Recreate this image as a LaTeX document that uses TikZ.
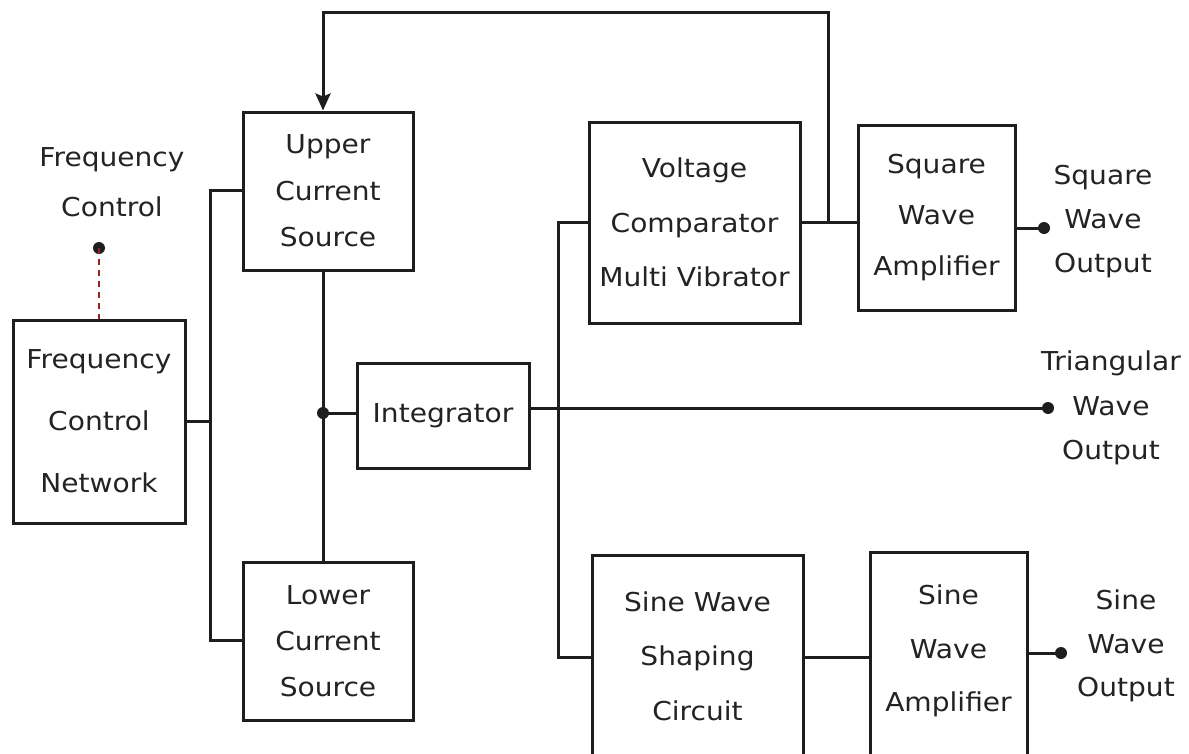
\documentclass[tikz,border=0pt]{standalone}
\usepackage{fontspec}
\setmainfont{DejaVu Sans}[FakeStretch=1.08]
\usetikzlibrary{arrows.meta}
\definecolor{ink}{RGB}{30,30,30}
\definecolor{txt}{RGB}{35,35,35}
\definecolor{dred}{RGB}{150,35,35}
\newcommand{\fs}[1]{\fontsize{26}{#1}\selectfont}
\begin{document}
\begin{tikzpicture}[x=1pt,y=-1pt,line width=3pt,draw=ink,
  box/.style={draw=ink,line width=3pt,align=center,inner sep=0pt,text=txt},
  lbl/.style={align=center,inner sep=0pt,text=txt},
  dot/.style={circle,fill=ink,inner sep=0pt,minimum size=12pt},
  conn/.style={draw=ink,line width=3pt}]
\useasboundingbox (0,0) rectangle (1189,753);
\clip (0,0) rectangle (1189,753);
\fill[white] (0,0) rectangle (1189,753);

% blocks
\node[box,minimum width=172pt,minimum height=203pt,font=\fs{62pt}] (fcn) at (99,421.5) {Frequency\\Control\\Network};
\node[box,minimum width=170pt,minimum height=158pt,font=\fs{46.5pt}] (upper) at (328,191) {Upper\\Current\\Source};
\node[box,minimum width=170pt,minimum height=158pt,font=\fs{46pt}] (lower) at (328,641) {Lower\\Current\\Source};
\node[box,minimum width=172pt,minimum height=105pt,font=\fs{30pt}] (integ) at (443,415.5) {Integrator};
\node[box,minimum width=211pt,minimum height=201pt,font=\fs{54.5pt}] (vcm) at (694.5,222.5) {Voltage\\Comparator\\Multi Vibrator};
\node[box,minimum width=157pt,minimum height=185pt,font=\fs{51pt}] (sqa) at (936.5,217.5) {Square\\Wave\\Amplifier};
\node[box,minimum width=211pt,minimum height=230pt] (sws) at (697.5,670) {};
\node[lbl,font=\fs{54.5pt}] (swst) at (697.5,656) {Sine Wave\\Shaping\\Circuit};
\node[box,minimum width=157pt,minimum height=230pt] (swa) at (948.5,667) {};
\node[lbl,font=\fs{53.5pt}] (swat) at (948.5,651) {Sine\\Wave\\Amplifier};

% outside labels
\node[lbl,font=\fs{50pt}] (fcl) at (112,182) {Frequency\\Control};
\node[lbl,font=\fs{44pt}] (sqo) at (1103,222) {Square\\Wave\\Output};
\node[lbl,font=\fs{44.5pt}] (tro) at (1111,408) {Triangular\\Wave\\Output};
\node[lbl,font=\fs{43.5pt}] (swo) at (1126,646) {Sine\\Wave\\Output};

% terminal dots
\node[dot] (fcdot) at (99,248) {};
\node[dot] (sqdot) at (1044,228) {};
\node[dot] (trdot) at (1048,408) {};
\node[dot] (swdot) at (1061,653) {};
\node[dot] (j) at (323,413) {};

% helper coordinates
\coordinate (bt) at (210,190);
\coordinate (bb) at (210,640);
\coordinate (v1) at (558,222);
\coordinate (v2) at (558,657);
\coordinate (fb) at (828,222);
\coordinate (ftop) at (828,12);
\coordinate (ltop) at (323,12);

% frequency control dashed link
\draw[dred,line width=2.4pt,dash pattern=on 6pt off 5pt] (fcdot.center) -- (fcn.north);

% bus to current sources
\draw[conn] (fcn.east) -- (fcn.east -| bt);
\draw[conn] (bt -| upper.west) -- (bt) -- (bb) -- (bb -| lower.west);

% current sources to integrator
\draw[conn] (j |- upper.south) -- (j |- lower.north);
\draw[conn] (j.center) -- (j.center -| integ.west);

% integrator output to triangular output
\draw[conn] (integ.east |- trdot) -- (trdot.center);

% vertical feed to comparator and sine shaper
\draw[conn] (v1 -| vcm.west) -- (v1) -- (v2) -- (v2 -| sws.west);

% comparator to square amp, feedback
\draw[conn] (vcm.east |- fb) -- (sqa.west |- fb);
\draw[conn,-{Stealth[length=17pt,width=15pt,inset=3pt]}] (fb) -- (ftop) -- (ltop) -- (ltop |- upper.north);

% outputs
\draw[conn] (sqa.east |- sqdot) -- (sqdot.center);
\draw[conn] (sws.east |- v2) -- (swa.west |- v2);
\draw[conn] (swa.east |- swdot) -- (swdot.center);
\end{tikzpicture}
\end{document}
